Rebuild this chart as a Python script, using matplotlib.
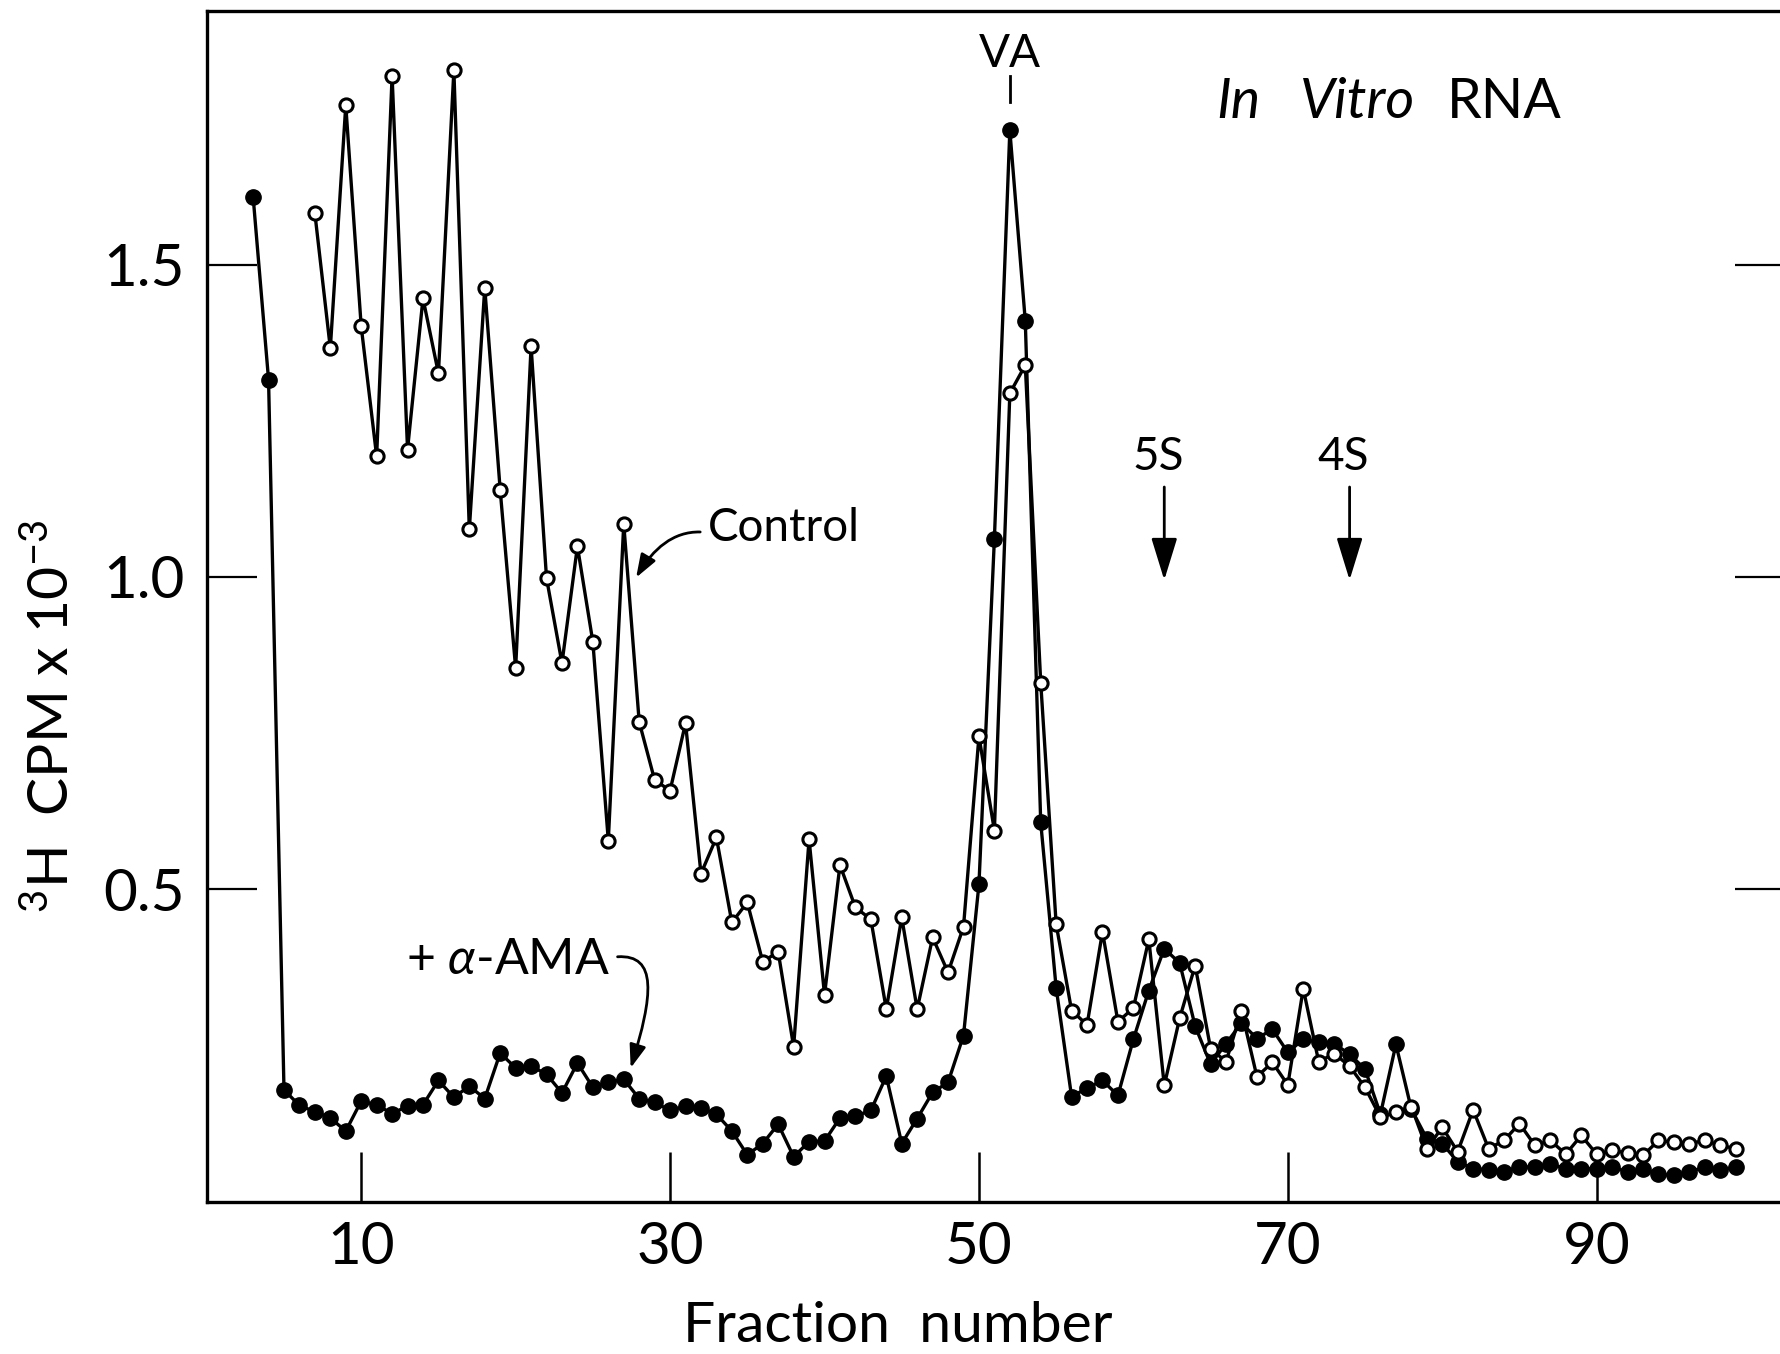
import matplotlib
matplotlib.use("Agg")
import matplotlib.pyplot as plt
from matplotlib.patches import FancyArrowPatch, ArrowStyle
from matplotlib.path import Path

plt.rcParams["font.family"] = ["Lato", "DejaVu Sans"]
plt.rcParams["text.color"] = "black"
plt.rcParams["mathtext.fontset"] = "custom"
plt.rcParams["mathtext.rm"] = "Lato"
plt.rcParams["mathtext.it"] = "Lato:italic"
plt.rcParams["mathtext.default"] = "regular"

# Fractions collected and 3H counts (CPM x 10^-3)
fractions_ama = list(range(3, 100))
cpm_ama = [
    1.609, 1.316, 0.179, 0.154, 0.144, 0.134, 0.113, 0.161, 0.155, 0.141,
    0.153, 0.155, 0.194, 0.167, 0.185, 0.165, 0.238, 0.214, 0.217, 0.204,
    0.174, 0.222, 0.183, 0.191, 0.196, 0.165, 0.159, 0.146, 0.153, 0.150,
    0.140, 0.113, 0.075, 0.093, 0.124, 0.072, 0.096, 0.097, 0.134, 0.137,
    0.146, 0.201, 0.093, 0.133, 0.175, 0.191, 0.266, 0.508, 1.061, 1.715,
    1.410, 0.607, 0.342, 0.168, 0.182, 0.194, 0.170, 0.260, 0.338, 0.405,
    0.382, 0.281, 0.220, 0.253, 0.286, 0.261, 0.276, 0.239, 0.260, 0.255,
    0.253, 0.236, 0.212, 0.140, 0.252, 0.148, 0.101, 0.093, 0.064, 0.053,
    0.051, 0.048, 0.056, 0.055, 0.060, 0.053, 0.053, 0.053, 0.055, 0.048,
    0.052, 0.044, 0.042, 0.048, 0.055, 0.050, 0.056,
]

fractions_control = list(range(7, 100))
cpm_control = [
    1.582, 1.366, 1.755, 1.401, 1.193, 1.802, 1.204, 1.446, 1.326, 1.811,
    1.076, 1.463, 1.139, 0.854, 1.369, 0.998, 0.862, 1.049, 0.896, 0.578,
    1.085, 0.768, 0.675, 0.658, 0.766, 0.525, 0.583, 0.447, 0.479, 0.384,
    0.400, 0.248, 0.580, 0.331, 0.539, 0.471, 0.452, 0.308, 0.455, 0.308,
    0.423, 0.367, 0.440, 0.745, 0.594, 1.294, 1.339, 0.831, 0.444, 0.306,
    0.283, 0.432, 0.288, 0.310, 0.420, 0.186, 0.294, 0.378, 0.245, 0.224,
    0.306, 0.200, 0.223, 0.187, 0.341, 0.224, 0.237, 0.217, 0.183, 0.135,
    0.143, 0.152, 0.085, 0.119, 0.080, 0.147, 0.085, 0.098, 0.125, 0.090,
    0.098, 0.076, 0.106, 0.076, 0.082, 0.078, 0.074, 0.098, 0.095, 0.093,
    0.098, 0.090, 0.085,
]

x_ticks = [10, 30, 50, 70, 90]
y_ticks = [0.5, 1.0, 1.5]
y_tick_labels = ["0.5", "1.0", "1.5"]

# Marker fractions for the reference RNA species
marker_5s = 62
marker_4s = 74
peak_va = 52

fig = plt.figure(figsize=(17.81, 13.54), dpi=100)
ax = fig.add_axes([0.1161, 0.1125, 0.8862, 0.8794])
ax.set_xlim(0, 102.2)
ax.set_ylim(0, 1.906)

ax.plot(fractions_ama, cpm_ama, color="black", lw=2.4, marker="o",
        markersize=11, markerfacecolor="black", markeredgecolor="black",
        zorder=3)
ax.plot(fractions_control, cpm_control, color="black", lw=2.4, marker="o",
        markersize=9.5, markerfacecolor="white", markeredgecolor="black",
        markeredgewidth=2.2, zorder=4)

# Frame and inward ticks
for side in ("left", "top", "bottom"):
    ax.spines[side].set_linewidth(2.4)
ax.spines["right"].set_visible(False)

ax.set_xticks(x_ticks)
ax.set_xticklabels([str(v) for v in x_ticks])
ax.set_yticks(y_ticks)
ax.set_yticklabels(y_tick_labels)
ax.tick_params(axis="x", direction="in", length=36, width=1.8, pad=14,
               labelsize=42, labelcolor="black")
ax.tick_params(axis="y", direction="in", length=36, width=1.6, pad=16,
               labelsize=42, right=True, labelcolor="black")

ax.set_xlabel("Fraction  number", fontsize=41, color="black")
ax.xaxis.set_label_coords(0.438, -0.083)
fig.text(52 / 1781, 1 - 716 / 1354, r"$^{3}$H  CPM x 10$^{-3}$",
         rotation=90, ha="center", va="center", fontsize=41, color="black")

# Title-like annotation
ax.text(65.4, 1.759, "In", fontsize=40, style="italic",
        ha="left", va="center")
ax.text(70.8, 1.759, "Vitro", fontsize=40, style="italic",
        ha="left", va="center")
ax.text(80.3, 1.759, "RNA", fontsize=40, ha="left", va="center")

# VA peak label with a short tick
ax.text(peak_va, 1.837, "VA", fontsize=33, ha="center", va="center")
ax.plot([peak_va, peak_va], [1.760, 1.802], color="black", lw=2.0)

# 5S and 4S markers
head = ArrowStyle("-|>", head_length=26, head_width=8)
for xm, name in ((marker_5s, "5S"), (marker_4s, "4S")):
    ax.text(xm - 0.4, 1.192, name, fontsize=33, ha="center", va="center")
    ax.add_patch(FancyArrowPatch((xm, 1.144), (xm, 0.995), arrowstyle=head,
                                 mutation_scale=1, lw=2.0, color="black",
                                 shrinkA=0, shrinkB=0))

# Series labels with curved pointers
ax.text(32.45, 1.078, "Control", fontsize=33, ha="left", va="center")
small_head = ArrowStyle("-|>", head_length=14, head_width=5)
control_path = Path([(31.95, 1.072), (30.2, 1.073), (28.9, 1.045),
                     (27.8, 0.999)],
                    [Path.MOVETO, Path.CURVE4, Path.CURVE4, Path.CURVE4])
ax.add_patch(FancyArrowPatch(path=control_path, arrowstyle=small_head,
                             mutation_scale=1, lw=2.0, color="black"))

ax.text(12.9, 0.387, r"+ $\it{\alpha}$-AMA", fontsize=36,
        ha="left", va="center")
ama_path = Path([(26.6, 0.392), (29.2, 0.396), (28.9, 0.33),
                 (27.45, 0.214)],
                [Path.MOVETO, Path.CURVE4, Path.CURVE4, Path.CURVE4])
ax.add_patch(FancyArrowPatch(path=ama_path, arrowstyle=small_head,
                             mutation_scale=1, lw=2.0, color="black"))

fig.savefig("out.png", dpi=100)
